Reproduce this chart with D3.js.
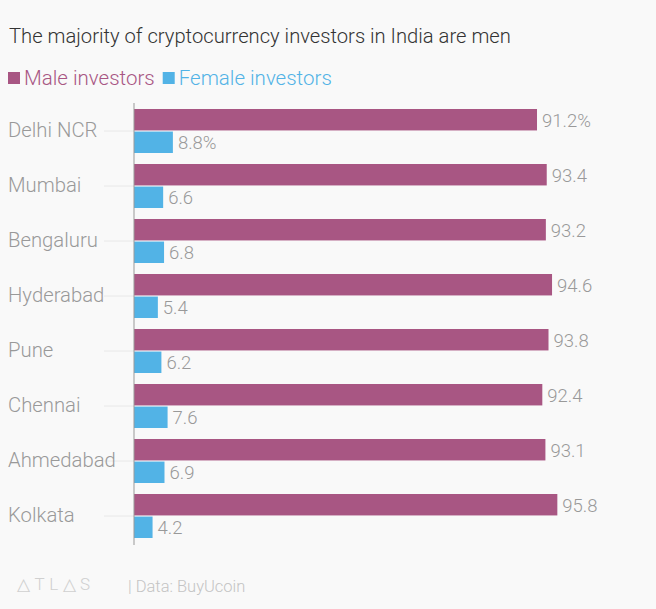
<!DOCTYPE html>
<html><head><meta charset="utf-8">
<script src="https://cdn.jsdelivr.net/npm/d3@7"></script>
<style>
html,body{margin:0;padding:0;background:#f9f9f9;}
svg{display:block;font-family:Roboto, "Noto Sans", sans-serif;}
</style></head>
<body><svg id="c" width="656" height="609"></svg>
<script>
const cities = ["Delhi NCR","Mumbai","Bengaluru","Hyderabad","Pune","Chennai","Ahmedabad","Kolkata"];
const male = [91.2,93.4,93.2,94.6,93.8,92.4,93.1,95.8];
const female = [8.8,6.6,6.8,5.4,6.2,7.6,6.9,4.2];
const seriesNames = ["Male investors","Female investors"];
const colors = ["#a85683","#52b3e6"];

const svg = d3.select("#c");
svg.append("rect").attr("width",656).attr("height",609).attr("fill","#f9f9f9");

svg.append("text").attr("x",9).attr("y",43).attr("font-size",20.2).attr("font-weight",300)
  .attr("fill","#333").text("The majority of cryptocurrency investors in India are men");

// legend
let lx = 8;
seriesNames.forEach((n,i)=>{
  svg.append("rect").attr("x",lx).attr("y",72).attr("width",12).attr("height",12).attr("fill",colors[i]);
  const t = svg.append("text").attr("x",lx+16).attr("y",85).attr("font-size",20.5).attr("font-weight",300)
    .attr("fill",colors[i]).text(n);
  lx += 16 + t.node().getComputedTextLength() + 8;
});

const x0 = 134;
const x = d3.scaleLinear().domain([0,100]).range([x0, x0+441.9]);
const y = d3.scaleBand().domain(cities).range([104,544]).paddingInner(0).paddingOuter(0);
const sub = d3.scaleBand().domain([0,1]).range([0,44]).paddingInner(0.05);
const g = svg.append("g");

cities.forEach((c,i)=>{
  const top = y(c)+5;
  const cy = top + 22;
  g.append("line").attr("x1",104).attr("x2",x0).attr("y1",cy).attr("y2",cy).attr("stroke","#e8e8e8");
  g.append("text").attr("x",8).attr("y",cy+6).attr("font-size",20.3).attr("font-weight",300)
    .attr("fill","#999").text(c);
  [male[i],female[i]].forEach((v,j)=>{
    const by = top + sub(j);
    const bh = sub.bandwidth();
    g.append("rect").attr("x",x(0)).attr("y",by).attr("width",x(v)-x(0)).attr("height",bh).attr("fill",colors[j]);
    g.append("text").attr("x",x(v)+5).attr("y",by+bh/2+7).attr("font-size",18.5).attr("font-weight",300)
      .attr("fill","#999").text(i===0 ? v.toFixed(1)+"%" : v.toFixed(1));
  });
});

svg.append("line").attr("x1",x0).attr("x2",x0).attr("y1",103).attr("y2",545).attr("stroke","#999").attr("stroke-width",1);

svg.append("text").attr("x",17).attr("y",590).attr("font-size",17).attr("font-weight",300)
  .attr("fill","#d0d0d0").attr("letter-spacing",4.5).text("\u25B3TL\u25B3S");
svg.append("text").attr("x",128).attr("y",592).attr("font-size",16.5).attr("font-weight",300)
  .attr("fill","#c4c4c4").text("| Data: BuyUcoin");
</script></body></html>
